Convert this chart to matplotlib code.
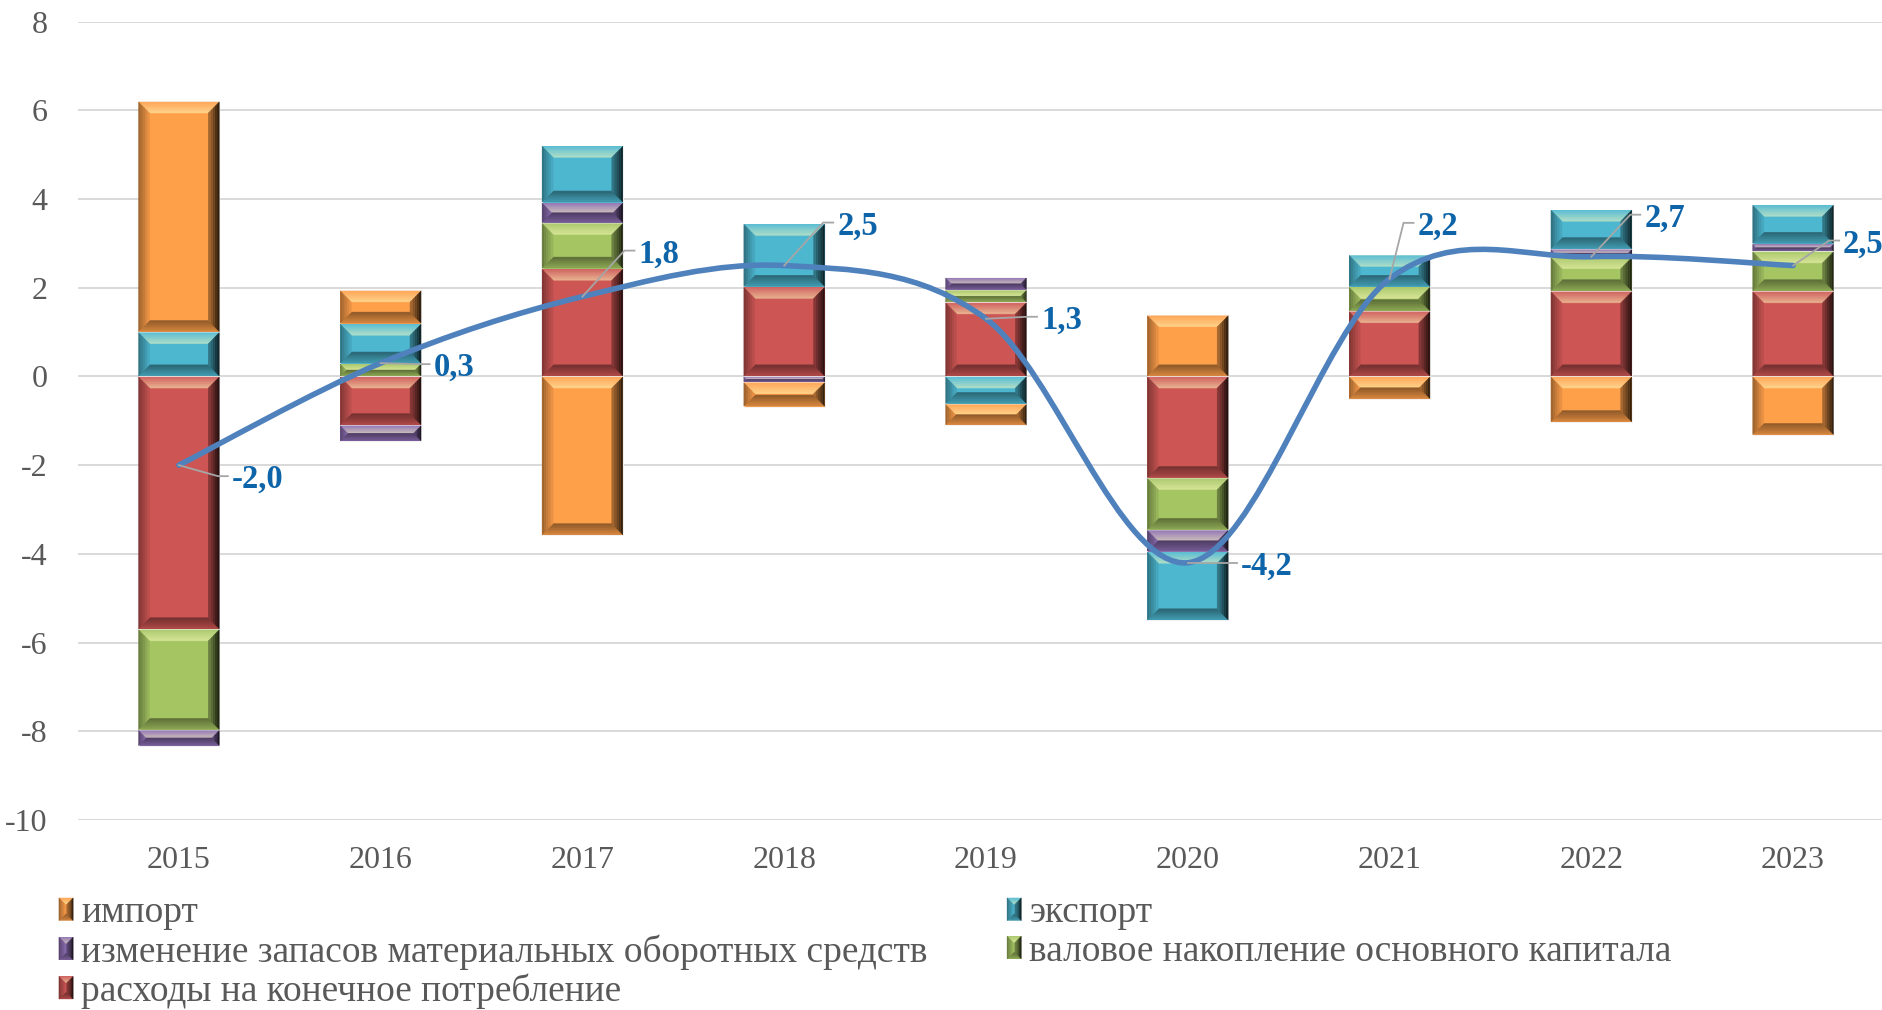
import numpy as np
import matplotlib
matplotlib.use("Agg")
import matplotlib.pyplot as plt
from matplotlib.patches import Polygon, Rectangle, PathPatch
from matplotlib.path import Path
from matplotlib.lines import Line2D
from matplotlib.legend_handler import HandlerBase
from matplotlib.transforms import IdentityTransform
from matplotlib.colors import to_rgb
from matplotlib.font_manager import FontProperties

# ---------------- data ----------------
years = ["2015", "2016", "2017", "2018", "2019", "2020", "2021", "2022", "2023"]
consumption = [-5.7, -1.1, 2.43, 2.02, 1.67, -2.29, 1.47, 1.92, 1.92]
gross_capital = [-2.27, 0.29, 1.03, 0.0, 0.28, -1.17, 0.55, 0.77, 0.9]
inventories = [-0.36, -0.36, 0.46, -0.13, 0.28, -0.49, 0.0, 0.18, 0.17]
exports = [1.0, 0.9, 1.28, 1.42, -0.62, -1.55, 0.72, 0.89, 0.88]
imports = [5.2, 0.75, -3.58, -0.55, -0.48, 1.38, -0.51, -1.03, -1.32]
gdp_growth = [-2.0, 0.3, 1.8, 2.5, 1.3, -4.2, 2.2, 2.7, 2.5]

name_consumption = "расходы на конечное потребление"
name_gross = "валовое накопление основного капитала"
name_inventories = "изменение запасов материальных оборотных средств"
name_exports = "экспорт"
name_imports = "импорт"
y_ticks = [-10, -8, -6, -4, -2, 0, 2, 4, 6, 8]

# ---------------- style ----------------
SERIF = ['Liberation Serif', 'DejaVu Serif']
plt.rcParams['font.family'] = SERIF
plt.rcParams['axes.unicode_minus'] = False

W, H, DPI = 1883, 1010, 100
fig = plt.figure(figsize=(W / DPI, H / DPI), dpi=DPI)
ax = fig.add_axes([78 / W, 1 - 820 / H, (1894 - 78) / W, (820 - 21.6) / H])

series = [
    (name_consumption, consumption, "#CD5654"),
    (name_gross, gross_capital, "#A5C563"),
    (name_inventories, inventories, "#8B6DB1"),
    (name_exports, exports, "#4DB7D0"),
    (name_imports, imports, "#FE9F4A"),
]

x = np.arange(len(years))
ax.set_xlim(-0.5, len(years) - 0.5)
ax.set_ylim(-10, 8)
ax.set_yticks(y_ticks)
ax.set_yticklabels([str(t) for t in y_ticks])
ax.set_xticks(x)
ax.set_xticklabels(years)
for s in ax.spines.values():
    s.set_visible(False)
ax.tick_params(axis='both', length=0, labelsize=23, labelcolor="#595959")
ax.tick_params(axis='y', pad=22)
ax.tick_params(axis='x', pad=19)
ax.grid(axis='y', color="#D9D9D9", linewidth=1.4, zorder=0)
ax.set_axisbelow(True)


def mix(c, target, t):
    c = np.array(to_rgb(c))
    target = np.array(to_rgb(target))
    return tuple(c * (1 - t) + target * t)


def bevel_patches(x0, y0, x1, y1, face, b):
    """Return polygons forming a beveled rectangle (y up)."""
    w = x1 - x0
    h = y1 - y0
    b = max(0.0, min(b, w / 2.0, h / 2.0))
    out = [Polygon([(x0, y0), (x1, y0), (x1, y1), (x0, y1)], closed=True,
                   facecolor=face, edgecolor='none')]
    if b <= 0.3:
        return out
    n = 5
    sides = {
        'top': (mix(face, 'white', 0.08), mix(face, '#FFFFC0', 0.55)),
        'bottom': (mix(face, 'black', 0.15), mix(face, 'black', 0.45)),
        'left': (mix(face, 'black', 0.40), mix(face, 'black', 0.05)),
        'right': (mix(face, 'black', 0.85), mix(face, 'black', 0.30)),
    }
    for k in range(n):
        t0 = k / n
        t1 = (k + 1) / n
        tc = (k + 0.5) / n
        d0 = b * t0
        d1 = b * t1
        polys = {
            'top': [(x0 + d0, y1 - d0), (x1 - d0, y1 - d0), (x1 - d1, y1 - d1), (x0 + d1, y1 - d1)],
            'bottom': [(x0 + d0, y0 + d0), (x1 - d0, y0 + d0), (x1 - d1, y0 + d1), (x0 + d1, y0 + d1)],
            'left': [(x0 + d0, y0 + d0), (x0 + d1, y0 + d1), (x0 + d1, y1 - d1), (x0 + d0, y1 - d0)],
            'right': [(x1 - d0, y0 + d0), (x1 - d1, y0 + d1), (x1 - d1, y1 - d1), (x1 - d0, y1 - d0)],
        }
        for side, pts in polys.items():
            co, ci = sides[side]
            col = tuple(np.array(co) * (1 - tc) + np.array(ci) * tc)
            out.append(Polygon(pts, closed=True, facecolor=col, edgecolor=col, linewidth=0.3))
    return out


# ---------------- stacked bars ----------------
pos_base = np.zeros(len(years))
neg_base = np.zeros(len(years))
containers = []
for name, vals, col in series:
    vals = np.array(vals, dtype=float)
    bottoms = np.where(vals >= 0, pos_base, neg_base)
    bc = ax.bar(x, vals, width=0.4, bottom=bottoms, color=col, label=name,
                edgecolor="#F2F2F2", linewidth=0.8, zorder=2)
    containers.append((bc, col))
    pos_base = pos_base + np.where(vals >= 0, vals, 0)
    neg_base = neg_base + np.where(vals < 0, vals, 0)

ident = IdentityTransform()
for bc, col in containers:
    for rect in bc.patches:
        if abs(rect.get_height()) < 1e-9:
            rect.set_visible(False)
            continue
        rx, ry = rect.get_x(), rect.get_y()
        rw, rh = rect.get_width(), rect.get_height()
        (px0, py0) = ax.transData.transform((rx, min(ry, ry + rh)))
        (px1, py1) = ax.transData.transform((rx + rw, max(ry, ry + rh)))
        for p in bevel_patches(px0, py0 + 0.6, px1, py1 - 0.6, col, 11):
            p.set_transform(ident)
            p.set_zorder(3)
            ax.add_patch(p)

# ---------------- smoothed GDP line (Catmull-Rom Bezier) ----------------
yv = np.array(gdp_growth, dtype=float)
pts = np.column_stack([x, yv])
verts = [tuple(pts[0])]
codes = [Path.MOVETO]
npts = len(pts)
for i in range(npts - 1):
    p0 = pts[i - 1] if i > 0 else pts[i]
    p1 = pts[i]
    p2 = pts[i + 1]
    p3 = pts[i + 2] if i + 2 < npts else pts[i + 1]
    c1 = p1 + (p2 - p0) / 6.0
    c2 = p2 - (p3 - p1) / 6.0
    verts += [tuple(c1), tuple(c2), tuple(p2)]
    codes += [Path.CURVE4] * 3
line_path = Path(verts, codes)
ax.add_patch(PathPatch(line_path, facecolor='none', edgecolor="#4F81BD",
                       linewidth=4.0, capstyle='round', joinstyle='round', zorder=5))

# ---------------- data labels with leader lines ----------------
label_dx = [53, 53, 56, 53, 55, 53, 28, 53, 50]      # pixels, to text left
label_dy = [-11, -1, 46, 43, 2, 0, 56, 42, 25]        # pixels, up positive
label_color = "#0E64A8"
for i, v in enumerate(gdp_growth):
    txt = f"{v:.1f}".replace('.', ',')
    dx, dy = label_dx[i], label_dy[i]
    ax.annotate(txt, xy=(x[i], v), xytext=(dx * 72 / DPI, dy * 72 / DPI),
                textcoords='offset points', ha='left', va='center_baseline',
                fontsize=23.5, fontweight='bold', color=label_color, zorder=7,
                family=SERIF)
    px, py = ax.transData.transform((x[i], v))
    ty = py + dy
    tx = px + dx
    xs = [px, tx - 14, tx - 4]
    ys = [py, ty, ty]
    ln = Line2D(xs, ys, transform=ident, color="#A6A6A6", linewidth=1.3, zorder=6)
    ax.add_line(ln)


# ---------------- legend ----------------
class BevelHandler(HandlerBase):
    def create_artists(self, legend, orig_handle, xdescent, ydescent, width,
                       height, fontsize, trans):
        face = orig_handle.get_facecolor()
        x0 = -xdescent
        y0 = -ydescent
        arts = bevel_patches(x0, y0, x0 + width, y0 + height, face[:3], width * 0.45)
        for a in arts:
            a.set_transform(trans)
        return arts


handle_map = {name: Rectangle((0, 0), 1, 1, facecolor=col) for name, _, col in series}
order = [name_imports, name_inventories, name_consumption, name_exports, name_gross]
handles = [handle_map[n] for n in order]
leg_font = FontProperties(family='Liberation Serif', size=26.9)
leg = fig.legend(handles, order, loc='upper left', bbox_to_anchor=(44 / W, 1 - 881 / H),
                 ncol=2, frameon=False, prop=leg_font, labelcolor="#595959",
                 handlelength=0.38, handleheight=0.55, handletextpad=0.22,
                 columnspacing=2.12, labelspacing=0.1, borderaxespad=0,
                 handler_map={Rectangle: BevelHandler()})

fig.savefig("out.png", dpi=DPI)
